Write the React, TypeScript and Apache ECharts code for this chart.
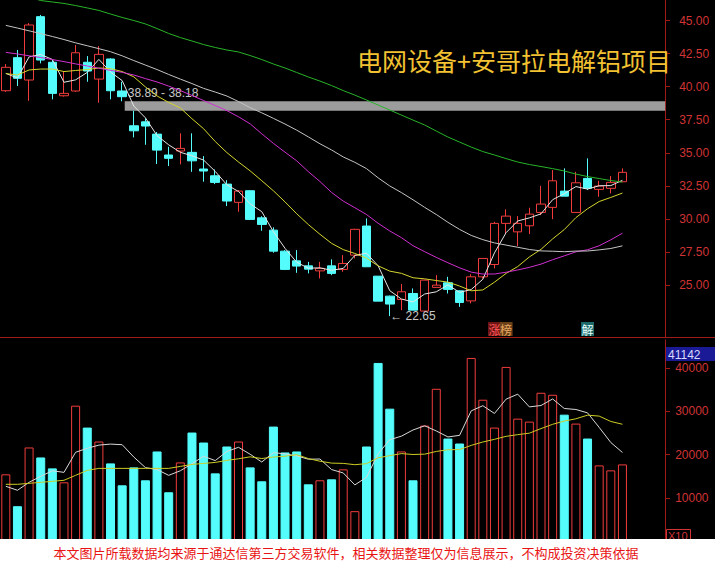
import React, { useEffect, useRef } from 'react';
import * as echarts from 'echarts';

// ---------- data ----------
const opens = [39.69, 42.19, 40.5, 45.29, 41.84, 39.31, 39.67, 41.84, 40.57, 42.09, 39.67, 37.04, 37.34, 36.41, 34.83, 35.13, 35.03, 33.77, 33.26, 32.63, 31.25, 32.13, 30.08, 29.15, 27.56, 26.83, 26.45, 26.07, 26.45, 26.18, 27.26, 29.46, 25.67, 24.16, 23.91, 24.36, 23.03, 24.82, 25.17, 24.56, 23.8, 25.62, 26.55, 29.66, 29.02, 29.48, 30.49, 30.87, 32.1, 30.49, 33.06, 32.23, 32.31, 32.81];
const closes = [41.46, 40.63, 44.66, 42.01, 39.49, 39.49, 42.56, 41.18, 42.44, 39.69, 39.24, 36.66, 37.02, 35.2, 34.58, 35.33, 34.39, 33.62, 32.76, 31.35, 32.1, 29.96, 29.58, 27.56, 26.18, 26.43, 26.2, 26.26, 25.88, 26.63, 29.21, 26.38, 23.78, 23.56, 24.49, 23.1, 25.37, 24.99, 24.67, 23.68, 25.62, 27.01, 29.66, 30.21, 29.66, 30.36, 31.12, 32.88, 31.72, 32.73, 32.31, 32.48, 32.76, 33.52];
const lows = [39.6, 40.05, 38.93, 41.76, 39.04, 39.24, 39.6, 40.37, 38.78, 39.04, 38.89, 36.16, 35.6, 34.15, 34.0, 34.12, 33.56, 32.81, 32.63, 30.97, 30.54, 29.91, 29.1, 27.44, 26.13, 25.92, 25.88, 25.5, 25.75, 26.0, 27.01, 26.38, 23.78, 22.65, 23.1, 23.1, 23.0, 24.82, 24.36, 23.35, 23.61, 25.5, 26.26, 28.9, 27.94, 28.85, 30.29, 29.98, 31.72, 30.49, 32.18, 31.67, 31.93, 32.81];
const highs = [41.71, 42.77, 44.8, 45.42, 42.01, 41.13, 43.15, 42.31, 43.07, 42.15, 40.37, 38.18, 37.6, 36.57, 35.45, 36.47, 36.47, 34.75, 33.74, 32.93, 32.18, 32.18, 30.2, 29.36, 27.64, 27.64, 26.75, 26.75, 26.94, 27.26, 29.25, 30.04, 25.67, 24.2, 25.07, 24.74, 25.4, 25.75, 25.62, 24.6, 25.82, 27.01, 29.78, 30.72, 30.21, 30.84, 32.5, 33.69, 33.82, 33.56, 34.58, 32.88, 33.24, 33.82];
const volumes = [15440, 8060, 21660, 19350, 16820, 13590, 31340, 26270, 23040, 17970, 12900, 17050, 14060, 20740, 11290, 18200, 25120, 22810, 15670, 21890, 23040, 17050, 13830, 26500, 20510, 20740, 13130, 14060, 14290, 16590, 6910, 21890, 41240, 30650, 20740, 14060, 26730, 35250, 23730, 22580, 42400, 32720, 26270, 40320, 28340, 27650, 34330, 33870, 29260, 27190, 23730, 17510, 16360, 17740];

// averages whose window starts before the visible range: values
const ma3Head = [41.0, 40.65];
const ma10Head = [40.99, 40.88, 41.26, 41.33, 41.33, 41.14, 41.22, 41.29, 41.41];
const ma20Head = [42.59, 42.47, 42.33, 42.2, 42.05, 41.89, 41.72, 41.56, 41.39, 41.23, 41.08, 40.88, 40.61, 40.35, 40.04, 39.7, 39.33, 38.95, 38.57];
const ma30Head = [44.63, 44.43, 44.22, 44.01, 43.79, 43.56, 43.31, 43.09, 42.87, 42.64, 42.33, 41.97, 41.63, 41.29, 40.92, 40.57, 40.23, 39.87, 39.59, 39.29, 38.87, 38.41, 38.02, 37.6, 37.17, 36.71, 36.2, 35.68, 35.21];
const ma60 = [47.3, 47.08, 46.78, 46.51, 46.4, 46.29, 46.13, 45.95, 45.76, 45.49, 45.23, 45.0, 44.74, 44.39, 44.02, 43.71, 43.45, 43.18, 42.96, 42.77, 42.62, 42.35, 42.05, 41.71, 41.41, 41.07, 40.73, 40.42, 40.08, 39.7, 39.36, 38.99, 38.61, 38.23, 37.85, 37.47, 37.1, 36.64, 36.19, 35.81, 35.43, 35.09, 34.83, 34.56, 34.3, 34.11, 33.96, 33.8, 33.62, 33.39, 33.2, 33.05, 32.9, 32.78];
const vma5Head = [12670, 11750, 13590, 14980];
const vma20Head = [13130, 13130, 13360, 13590, 13820, 14060, 15210, 16360, 16820, 16820, 16820, 16820, 16820, 16820, 16820, 17280, 17740, 17970, 18200];

const priceTicks = [25, 27.5, 30, 32.5, 35, 37.5, 40, 42.5, 45];
const volumeTicks = [10000, 20000, 30000, 40000];
const slotCount = 57; // 54 sessions + empty room up to the axis
const slots = Array.from({ length: slotCount }, (_, i) => String(i + 1));

const title = '电网设备+安哥拉电解铝项目';
const footnote = '本文图片所载数据均来源于通达信第三方交易软件，相关数据整理仅为信息展示，不构成投资决策依据';
const gap = { index: 11, top: 38.89, bottom: 38.18 };
const volumeTopLabel = '41142';
const volumeUnit = 'X10';
const eventMarks = [
  { index: 42, text: '涨', bg: '#6e1414', fg: '#ff5a5a' },
  { index: 43, text: '榜', bg: '#6a4018', fg: '#e8a860' },
  { index: 50, text: '解', bg: '#1d6a6a', fg: '#e8ffff' },
];

// ---------- colours ----------
const RED = '#f03c3c';
const CYAN = '#54fcfc';
const AXIS = '#a01a1a';
const AXIS_TEXT = '#d03434';

function movingAverage(src: number[], n: number, head: number[]) {
  return src.map((_, i) => {
    if (i < n - 1) return head[i];
    let s = 0;
    for (let k = i - n + 1; k <= i; k++) s += src[k];
    return +(s / n).toFixed(3);
  });
}

export default function App() {
  const ref = useRef<HTMLDivElement>(null);

  useEffect(() => {
    if (!ref.current) return;
    const chart = echarts.init(ref.current, undefined, { renderer: 'svg' });

    const candles = opens.map((o, i) => [o, closes[i], lows[i], highs[i]]);
    const upStyle = { color: '#000', borderColor: RED, borderWidth: 1 };
    const downStyle = { color: CYAN, borderColor: CYAN, borderWidth: 1 };
    const volData = volumes.map((v, i) => ({ value: v, itemStyle: closes[i] >= opens[i] ? upStyle : downStyle }));

    const ma3 = movingAverage(closes, 3, ma3Head);
    const ma10 = movingAverage(closes, 10, ma10Head);
    const ma20 = movingAverage(closes, 20, ma20Head);
    const ma30 = movingAverage(closes, 30, ma30Head);
    const vma5 = movingAverage(volumes, 5, vma5Head);
    const vma20 = movingAverage(volumes, 20, vma20Head);

    const line = (name: string, data: number[], color: string, x = 0) => ({
      name, type: 'line', data, xAxisIndex: x, yAxisIndex: x, showSymbol: false, symbol: 'none',
      lineStyle: { width: 1, color }, itemStyle: { color }, z: 4, silent: true,
    });

    const axisLabelFont = { color: AXIS_TEXT, fontSize: 12, fontFamily: 'Liberation Sans, Arial, sans-serif' };

    chart.setOption({
      animation: false,
      backgroundColor: '#000',
      grid: [
        { left: -0.93, top: 0, width: 664.1, height: 337 },
        { left: -0.93, top: 340, width: 664.1, height: 201 },
      ],
      xAxis: [0, 1].map((g) => ({
        type: 'category', gridIndex: g, data: slots, boundaryGap: true,
        axisLine: { show: false }, axisTick: { show: false }, axisLabel: { show: false }, splitLine: { show: false },
      })),
      yAxis: [
        {
          type: 'value', gridIndex: 0, position: 'right', offset: 2, min: 21.07, max: 46.55, scale: true,
          axisLine: { show: true, lineStyle: { color: AXIS, width: 1 } },
          axisTick: { show: true, length: 5, inside: false, customValues: priceTicks, lineStyle: { color: AXIS } },
          axisLabel: { ...axisLabelFont, margin: 14, customValues: priceTicks, formatter: (v: number) => v.toFixed(2) },
          splitLine: { show: false },
        },
        {
          type: 'value', gridIndex: 1, position: 'right', offset: 2, min: 0, max: 46555,
          axisLine: { show: true, lineStyle: { color: AXIS, width: 1 } },
          axisTick: { show: true, length: 5, customValues: volumeTicks, lineStyle: { color: AXIS } },
          axisLabel: { ...axisLabelFont, margin: 10, customValues: volumeTicks, formatter: (v: number) => String(v) },
          splitLine: { show: false },
        },
      ],
      series: [
        {
          name: 'gap', type: 'custom', xAxisIndex: 0, yAxisIndex: 0, z: 1, silent: true,
          data: [[gap.index, gap.top, gap.bottom]],
          renderItem: (params: any, api: any) => {
            const idx = api.value(0);
            const pTop = api.coord([idx, api.value(1)]);
            const pBot = api.coord([idx, api.value(2)]);
            const band = api.size([1, 0])[0];
            const cs = params.coordSys;
            const x0 = pTop[0] - band * 0.78;
            const x1 = cs.x + cs.width + 2;
            return {
              type: 'group',
              children: [
                { type: 'rect', shape: { x: x0, y: pTop[1], width: x1 - x0, height: pBot[1] - pTop[1] }, style: { fill: '#9c9c9c' } },
                {
                  type: 'text', x: x0 + 3, y: pTop[1] - 8,
                  style: { text: `${gap.top.toFixed(2)} - ${gap.bottom.toFixed(2)}`, fill: '#c8c8c8', font: '12px "Liberation Sans", Arial, sans-serif', verticalAlign: 'middle', textAlign: 'left' },
                },
              ],
            };
          },
        },
        {
          name: 'K', type: 'candlestick', xAxisIndex: 0, yAxisIndex: 0, data: candles, barWidth: 9, z: 2,
          itemStyle: { color: '#000', color0: CYAN, borderColor: RED, borderColor0: CYAN, borderWidth: 1 },
          markPoint: {
            symbol: 'circle', symbolSize: 1, itemStyle: { color: 'rgba(0,0,0,0)' },
            data: [{ type: 'min', valueDim: 'lowest' }],
            label: {
              show: true, position: 'right', distance: 0, formatter: (p: any) => '← ' + Number(p.value).toFixed(2),
              color: '#c8c8c8', fontSize: 12, fontFamily: 'Liberation Sans, DejaVu Sans, sans-serif',
            },
          },
        },
        line('MA3', ma3, '#e6e6e6'),
        line('MA10', ma10, '#d6d62e'),
        line('MA20', ma20, '#d030d0'),
        line('MA30', ma30, '#c4c4c4'),
        line('MA60', ma60, '#28b428'),
        {
          name: 'VOL', type: 'bar', xAxisIndex: 1, yAxisIndex: 1, data: volData, barWidth: 9, z: 2,
        },
        line('VMA5', vma5, '#d8d8d8', 1),
        line('VMA20', vma20, '#cccc24', 1),
      ],
    });

    const graphics: any[] = [
      { type: 'line', shape: { x1: 0, y1: 337.5, x2: 715, y2: 337.5 }, style: { stroke: AXIS, lineWidth: 1 }, z: 10 },
      {
        type: 'text', x: 357, y: 60, z: 10,
        style: { text: title, fill: '#f2c232', font: '25px "Noto Sans CJK SC", sans-serif', verticalAlign: 'middle', textAlign: 'left' },
      },
      { type: 'rect', shape: { x: 666, y: 347, width: 49, height: 14 }, style: { fill: '#1a1a96' }, z: 10 },
      {
        type: 'text', x: 668, y: 354.5, z: 11,
        style: { text: volumeTopLabel, fill: '#d8d8ff', font: '12px "Liberation Sans", Arial, sans-serif', verticalAlign: 'middle' },
      },
      { type: 'rect', shape: { x: 666.5, y: 529.5, width: 24, height: 13 }, style: { fill: '#000', stroke: AXIS_TEXT, lineWidth: 1 }, z: 10 },
      {
        type: 'text', x: 668, y: 536, z: 11,
        style: { text: volumeUnit, fill: AXIS_TEXT, font: '11px "Liberation Sans", Arial, sans-serif', verticalAlign: 'middle' },
      },
    ];
    eventMarks.forEach((m) => {
      const cx = chart.convertToPixel({ xAxisIndex: 0 }, m.index) as number;
      graphics.push({ type: 'rect', shape: { x: cx - 6.5, y: 322, width: 13, height: 14 }, style: { fill: m.bg }, z: 10 });
      graphics.push({
        type: 'text', x: cx, y: 329, z: 11,
        style: { text: m.text, fill: m.fg, font: '12px "Noto Sans CJK SC", sans-serif', textAlign: 'center', verticalAlign: 'middle' },
      });
    });
    graphics.push({ type: 'rect', shape: { x: 0, y: 539, width: 715, height: 28 }, style: { fill: '#ffffff' }, z: 100 });
    graphics.push({
      type: 'text', x: 346, y: 552, z: 101,
      style: { text: footnote, fill: '#e81414', font: '13px "Noto Sans CJK SC", sans-serif', textAlign: 'center', verticalAlign: 'middle' },
    });
    chart.setOption({ graphic: graphics });

    return () => chart.dispose();
  }, []);

  return (
    <div style={{ position: 'fixed', left: 0, top: 0, width: 715, height: 567, background: '#000' }}>
      <div ref={ref} style={{ width: 715, height: 567 }} />
    </div>
  );
}
